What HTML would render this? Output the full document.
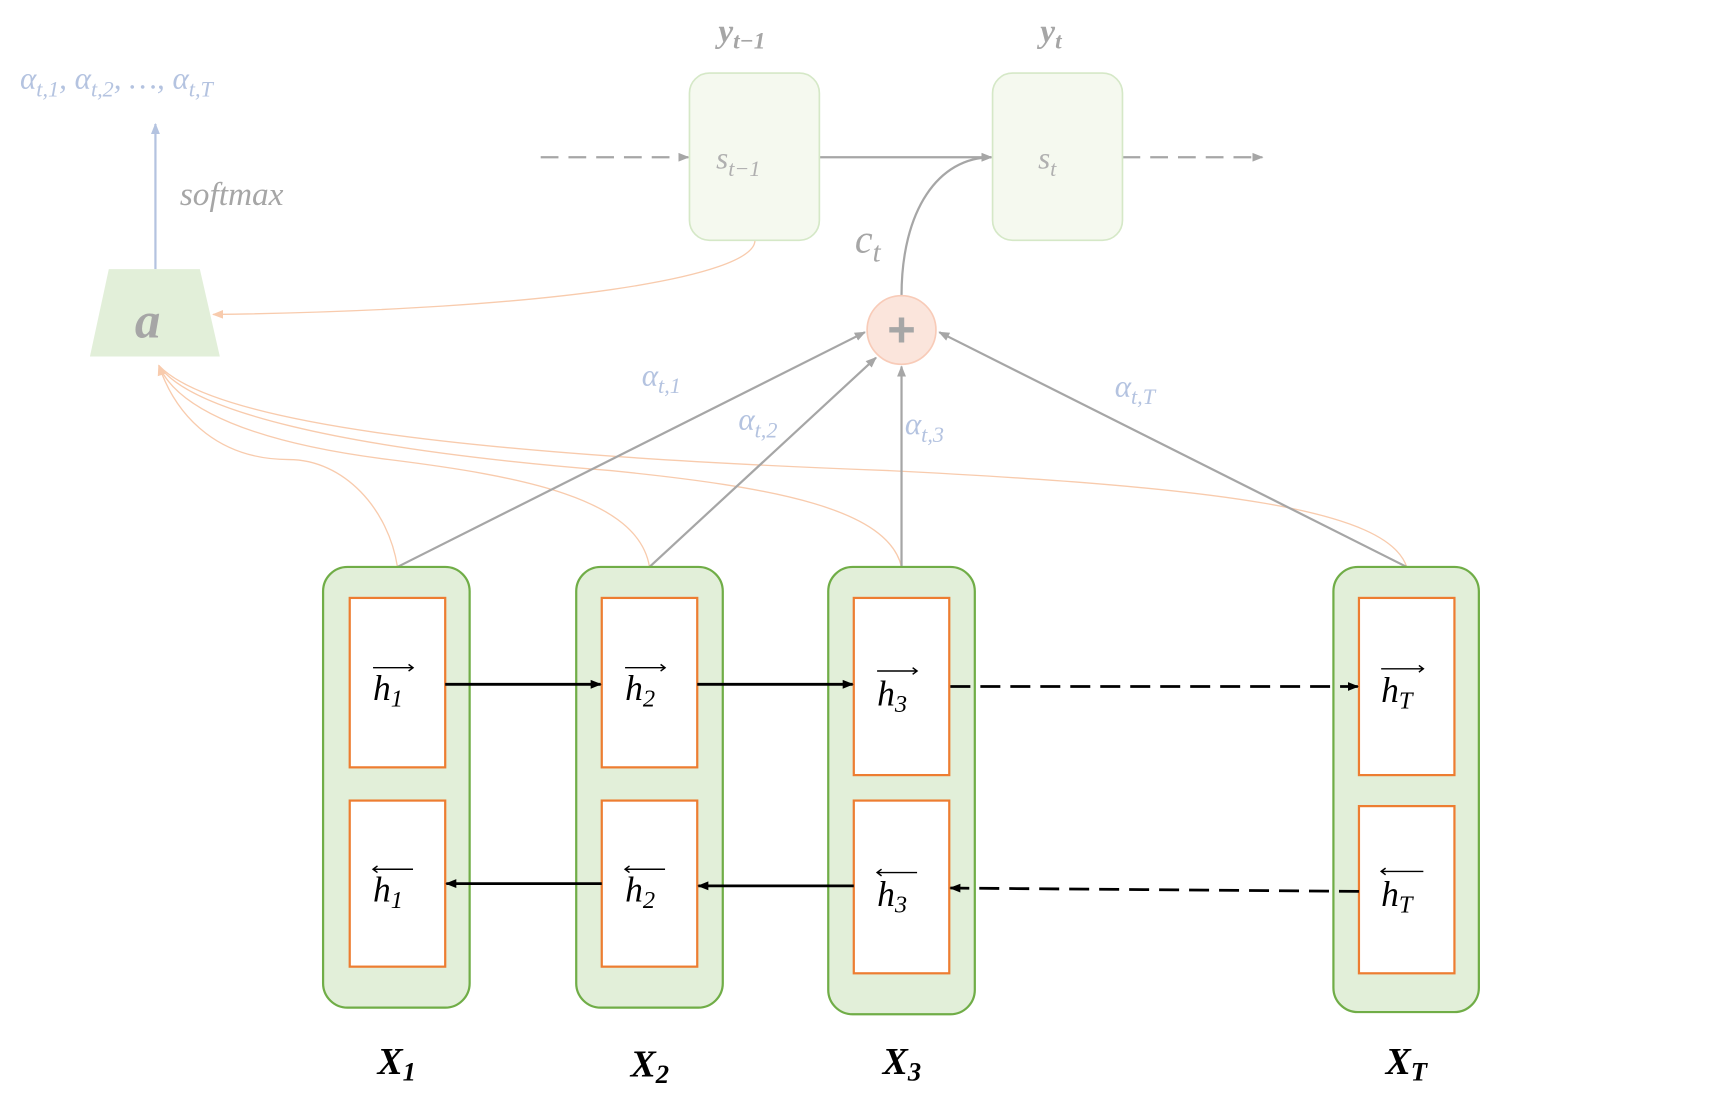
<!DOCTYPE html>
<html><head><meta charset="utf-8"><style>
html,body{margin:0;padding:0;background:#fff;}
svg{display:block;}
text{font-family:"Liberation Serif",serif;font-style:italic;}
</style></head><body>
<svg width="1732" height="1094" viewBox="0 0 1560 988" preserveAspectRatio="none" xmlns="http://www.w3.org/2000/svg">
<defs>
<marker id="ab" markerWidth="10" markerHeight="10" refX="9" refY="5" orient="auto" markerUnits="userSpaceOnUse"><path d="M0,1 L10,5 L0,9 z" fill="#000"/></marker>
<marker id="ag" markerWidth="10" markerHeight="10" refX="9" refY="5" orient="auto" markerUnits="userSpaceOnUse"><path d="M0,1 L10,5 L0,9 z" fill="#a6a6a6"/></marker>
<marker id="ao" markerWidth="10" markerHeight="10" refX="9" refY="5" orient="auto" markerUnits="userSpaceOnUse"><path d="M0,1 L10,5 L0,9 z" fill="#f8cbad"/></marker>
<marker id="au" markerWidth="10" markerHeight="10" refX="9" refY="5" orient="auto" markerUnits="userSpaceOnUse"><path d="M0,1 L10,5 L0,9 z" fill="#b4c3e0"/></marker>
</defs>

<!-- orange attention curves -->
<g fill="none" stroke="#f8cbad" stroke-width="1.2">
<path d="M358,512 C350,460 310,415 260,415 C200,415 160,380 143,330" marker-end="url(#ao)"/>
<path d="M585,512 C575,450 470,430 350,415 C230,400 160,370 143,330"/>
<path d="M812,512 C800,460 700,440 550,425 C300,405 170,370 143,330"/>
<path d="M1267,512 C1250,460 1100,440 800,425 C400,410 190,380 143,330"/>
<path d="M680,217 C680,250 500,280 192,284" marker-end="url(#ao)"/>
</g>

<!-- gray lines to plus -->
<g stroke="#a6a6a6" stroke-width="2" fill="none">
<line x1="358" y1="512" x2="779" y2="300" marker-end="url(#ag)"/>
<line x1="585" y1="512" x2="789" y2="323" marker-end="url(#ag)"/>
<line x1="812" y1="512" x2="812" y2="331" marker-end="url(#ag)"/>
<line x1="1267" y1="512" x2="846" y2="300" marker-end="url(#ag)"/>
<path d="M812,267 C812,190 845,142 893,142" marker-end="url(#ag)"/>
<line x1="738" y1="142" x2="893" y2="142" marker-end="url(#ag)"/>
<line x1="487" y1="142" x2="620" y2="142" stroke-dasharray="16,9" marker-end="url(#ag)"/>
<line x1="1011" y1="142" x2="1137" y2="142" stroke-dasharray="16,9" marker-end="url(#ag)"/>
</g>

<!-- decoder boxes -->
<rect x="621" y="66" width="117" height="151" rx="18" fill="#f5f9ef" stroke="#d5e8c7" stroke-width="1.5"/>
<rect x="894" y="66" width="117" height="151" rx="18" fill="#f5f9ef" stroke="#d5e8c7" stroke-width="1.5"/>
<text x="645" y="152" font-size="28" fill="#b0b0b0">s<tspan font-size="20" dy="7">t−1</tspan></text>
<text x="935" y="152" font-size="28" fill="#b0b0b0">s<tspan font-size="20" dy="7">t</tspan></text>
<text x="647" y="38" font-size="30" fill="#a6a6a6" font-weight="bold">y<tspan font-size="21" dy="6">t−1</tspan></text>
<text x="937" y="38" font-size="30" fill="#a6a6a6" font-weight="bold">y<tspan font-size="21" dy="6">t</tspan></text>

<!-- plus -->
<circle cx="812" cy="298" r="31" fill="#fbe5dc" stroke="#f8cbb8" stroke-width="1.5"/>
<text x="812" y="313" font-size="44" fill="#a6a6a6" text-anchor="middle" style="font-style:normal;font-weight:bold;font-family:'Liberation Sans',sans-serif">+</text>
<text x="770" y="228" font-size="36" fill="#a6a6a6">c<tspan font-size="26" dy="8">t</tspan></text>

<!-- alpha labels -->
<g fill="#b4c3e0" font-size="28">
<text x="578" y="348">α<tspan font-size="20" dy="7">t,1</tspan></text>
<text x="665" y="388">α<tspan font-size="20" dy="7">t,2</tspan></text>
<text x="815" y="392">α<tspan font-size="20" dy="7">t,3</tspan></text>
<text x="1004" y="358">α<tspan font-size="20" dy="7">t,T</tspan></text>
<text x="18" y="80">α<tspan font-size="20" dy="7">t,1</tspan><tspan dy="-7">, α</tspan><tspan font-size="20" dy="7">t,2</tspan><tspan dy="-7">, …, α</tspan><tspan font-size="20" dy="7">t,T</tspan></text>
</g>

<!-- a block -->
<line x1="140" y1="243" x2="140" y2="112" stroke="#b4c3e0" stroke-width="2" marker-end="url(#au)"/>
<text x="162" y="185" font-size="30" fill="#a6a6a6">softmax</text>
<polygon points="98,243 180,243 198,322 81,322" fill="#e2efd9"/>
<text x="133" y="305" font-size="46" fill="#a6a6a6" font-weight="bold" text-anchor="middle">a</text>

<!-- encoder columns -->
<g fill="#e2efd9" stroke="#70ad47" stroke-width="2">
<rect x="291" y="512" width="132" height="398" rx="22"/>
<rect x="519" y="512" width="132" height="398" rx="22"/>
<rect x="746" y="512" width="132" height="404" rx="22"/>
<rect x="1201" y="512" width="131" height="402" rx="22"/>
</g>
<g fill="#fff" stroke="#ed7d31" stroke-width="2">
<rect x="315" y="540" width="86" height="153"/>
<rect x="315" y="723" width="86" height="150"/>
<rect x="542" y="540" width="86" height="153"/>
<rect x="542" y="723" width="86" height="150"/>
<rect x="769" y="540" width="86" height="160"/>
<rect x="769" y="723" width="86" height="156"/>
<rect x="1224" y="540" width="86" height="160"/>
<rect x="1224" y="728" width="86" height="151"/>
</g>

<!-- h labels -->
<g font-size="32" fill="#000">
<text x="336" y="632">h<tspan font-size="22" dy="6">1</tspan></text>
<text x="563" y="632">h<tspan font-size="22" dy="6">2</tspan></text>
<text x="790" y="637">h<tspan font-size="22" dy="6">3</tspan></text>
<text x="1244" y="634">h<tspan font-size="22" dy="6">T</tspan></text>
<text x="336" y="814">h<tspan font-size="22" dy="6">1</tspan></text>
<text x="563" y="814">h<tspan font-size="22" dy="6">2</tspan></text>
<text x="790" y="818">h<tspan font-size="22" dy="6">3</tspan></text>
<text x="1244" y="818">h<tspan font-size="22" dy="6">T</tspan></text>
</g>
<g stroke="#000" stroke-width="1.3" fill="none">
<path d="M336,603 H372 M368,600 L372,603 L368,606"/>
<path d="M563,603 H599 M595,600 L599,603 L595,606"/>
<path d="M790,606 H826 M822,603 L826,606 L822,609"/>
<path d="M1244,604 H1282 M1278,601 L1282,604 L1278,607"/>
<path d="M336,785 H372 M340,782 L336,785 L340,788"/>
<path d="M563,785 H599 M567,782 L563,785 L567,788"/>
<path d="M790,788 H826 M794,785 L790,788 L794,791"/>
<path d="M1244,787 H1282 M1248,784 L1244,787 L1248,790"/>
</g>

<!-- recurrent arrows -->
<g stroke="#000" stroke-width="2.5" fill="none">
<line x1="401" y1="618" x2="541" y2="618" marker-end="url(#ab)"/>
<line x1="628" y1="618" x2="768" y2="618" marker-end="url(#ab)"/>
<line x1="856" y1="620" x2="1223" y2="620" stroke-dasharray="18,9" marker-end="url(#ab)"/>
<line x1="542" y1="798" x2="402" y2="798" marker-end="url(#ab)"/>
<line x1="769" y1="800" x2="629" y2="800" marker-end="url(#ab)"/>
<line x1="1224" y1="805" x2="856" y2="802" stroke-dasharray="18,9" marker-end="url(#ab)"/>
</g>

<!-- X labels -->
<g font-size="34" font-weight="bold" fill="#000">
<text x="340" y="970">X<tspan font-size="24" dy="6">1</tspan></text>
<text x="568" y="972">X<tspan font-size="24" dy="6">2</tspan></text>
<text x="795" y="970">X<tspan font-size="24" dy="6">3</tspan></text>
<text x="1248" y="970">X<tspan font-size="24" dy="6">T</tspan></text>
</g>
</svg>
</body></html>
